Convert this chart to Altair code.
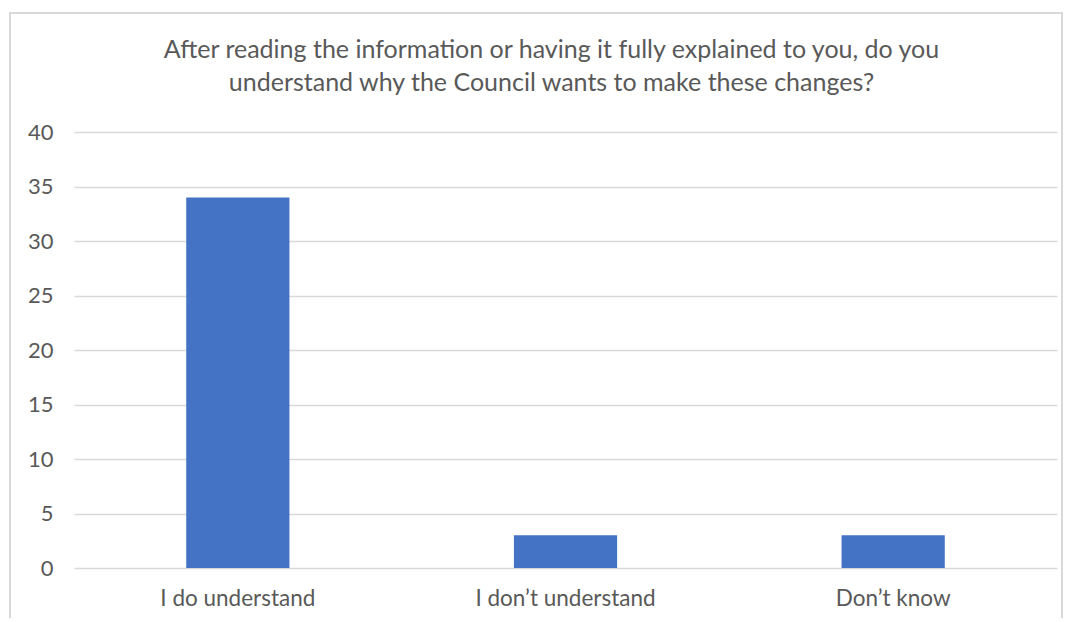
import altair as alt
import pandas as pd

categories = ["I do understand", "I don\u2019t understand", "Don\u2019t know"]
counts = [34, 3, 3]
y_ticks = [0, 5, 10, 15, 20, 25, 30, 35, 40]
title_lines = [
    "After reading the information or having it fully explained to you, do you",
    "understand why the Council wants to make these changes?",
]

df = pd.DataFrame({"category": categories, "count": counts})

FONT = "Lato"
GREY = "#595959"

bars = alt.Chart(df).mark_bar(color="#4472C4").encode(
    x=alt.X(
        "category:N",
        sort=categories,
        scale=alt.Scale(paddingInner=0.685, paddingOuter=0.3425),
        axis=alt.Axis(
            title=None,
            labelAngle=0,
            labelFont=FONT,
            labelFontSize=22.5,
            labelColor=GREY,
            labelPadding=19,
            labelLimit=500,
            domain=False,
            ticks=False,
        ),
    ),
    y=alt.Y(
        "count:Q",
        scale=alt.Scale(domain=[0, 40]),
        axis=alt.Axis(
            title=None,
            values=y_ticks,
            labelFont=FONT,
            labelFontSize=22,
            labelColor=GREY,
            labelPadding=21,
            domain=False,
            ticks=False,
            gridColor="#d9d9d9",
            gridWidth=1.5,
        ),
    ),
)

border = alt.Chart(df).mark_rect(fill=None, stroke="#d9d9d9", strokeWidth=2).encode(
    x=alt.value(-64), x2=alt.value(988), y=alt.value(-119), y2=alt.value(520)
)

chart = (
    alt.layer(border, bars)
    .properties(
        width=983,
        height=436,
        padding={"left": 66, "top": 124, "right": 6, "bottom": 50},
        autosize=alt.AutoSizeParams(type="none"),
        background="white",
        title=alt.TitleParams(
            text=title_lines,
            font=FONT,
            fontSize=25,
            fontWeight="normal",
            color=GREY,
            anchor="middle",
            dx=-14,
            offset=-84,
            lineHeight=33,
        ),
    )
    .configure_view(strokeWidth=0, stroke="transparent")
)

chart.save("out.html", embed_options={"renderer": "svg", "actions": False})
